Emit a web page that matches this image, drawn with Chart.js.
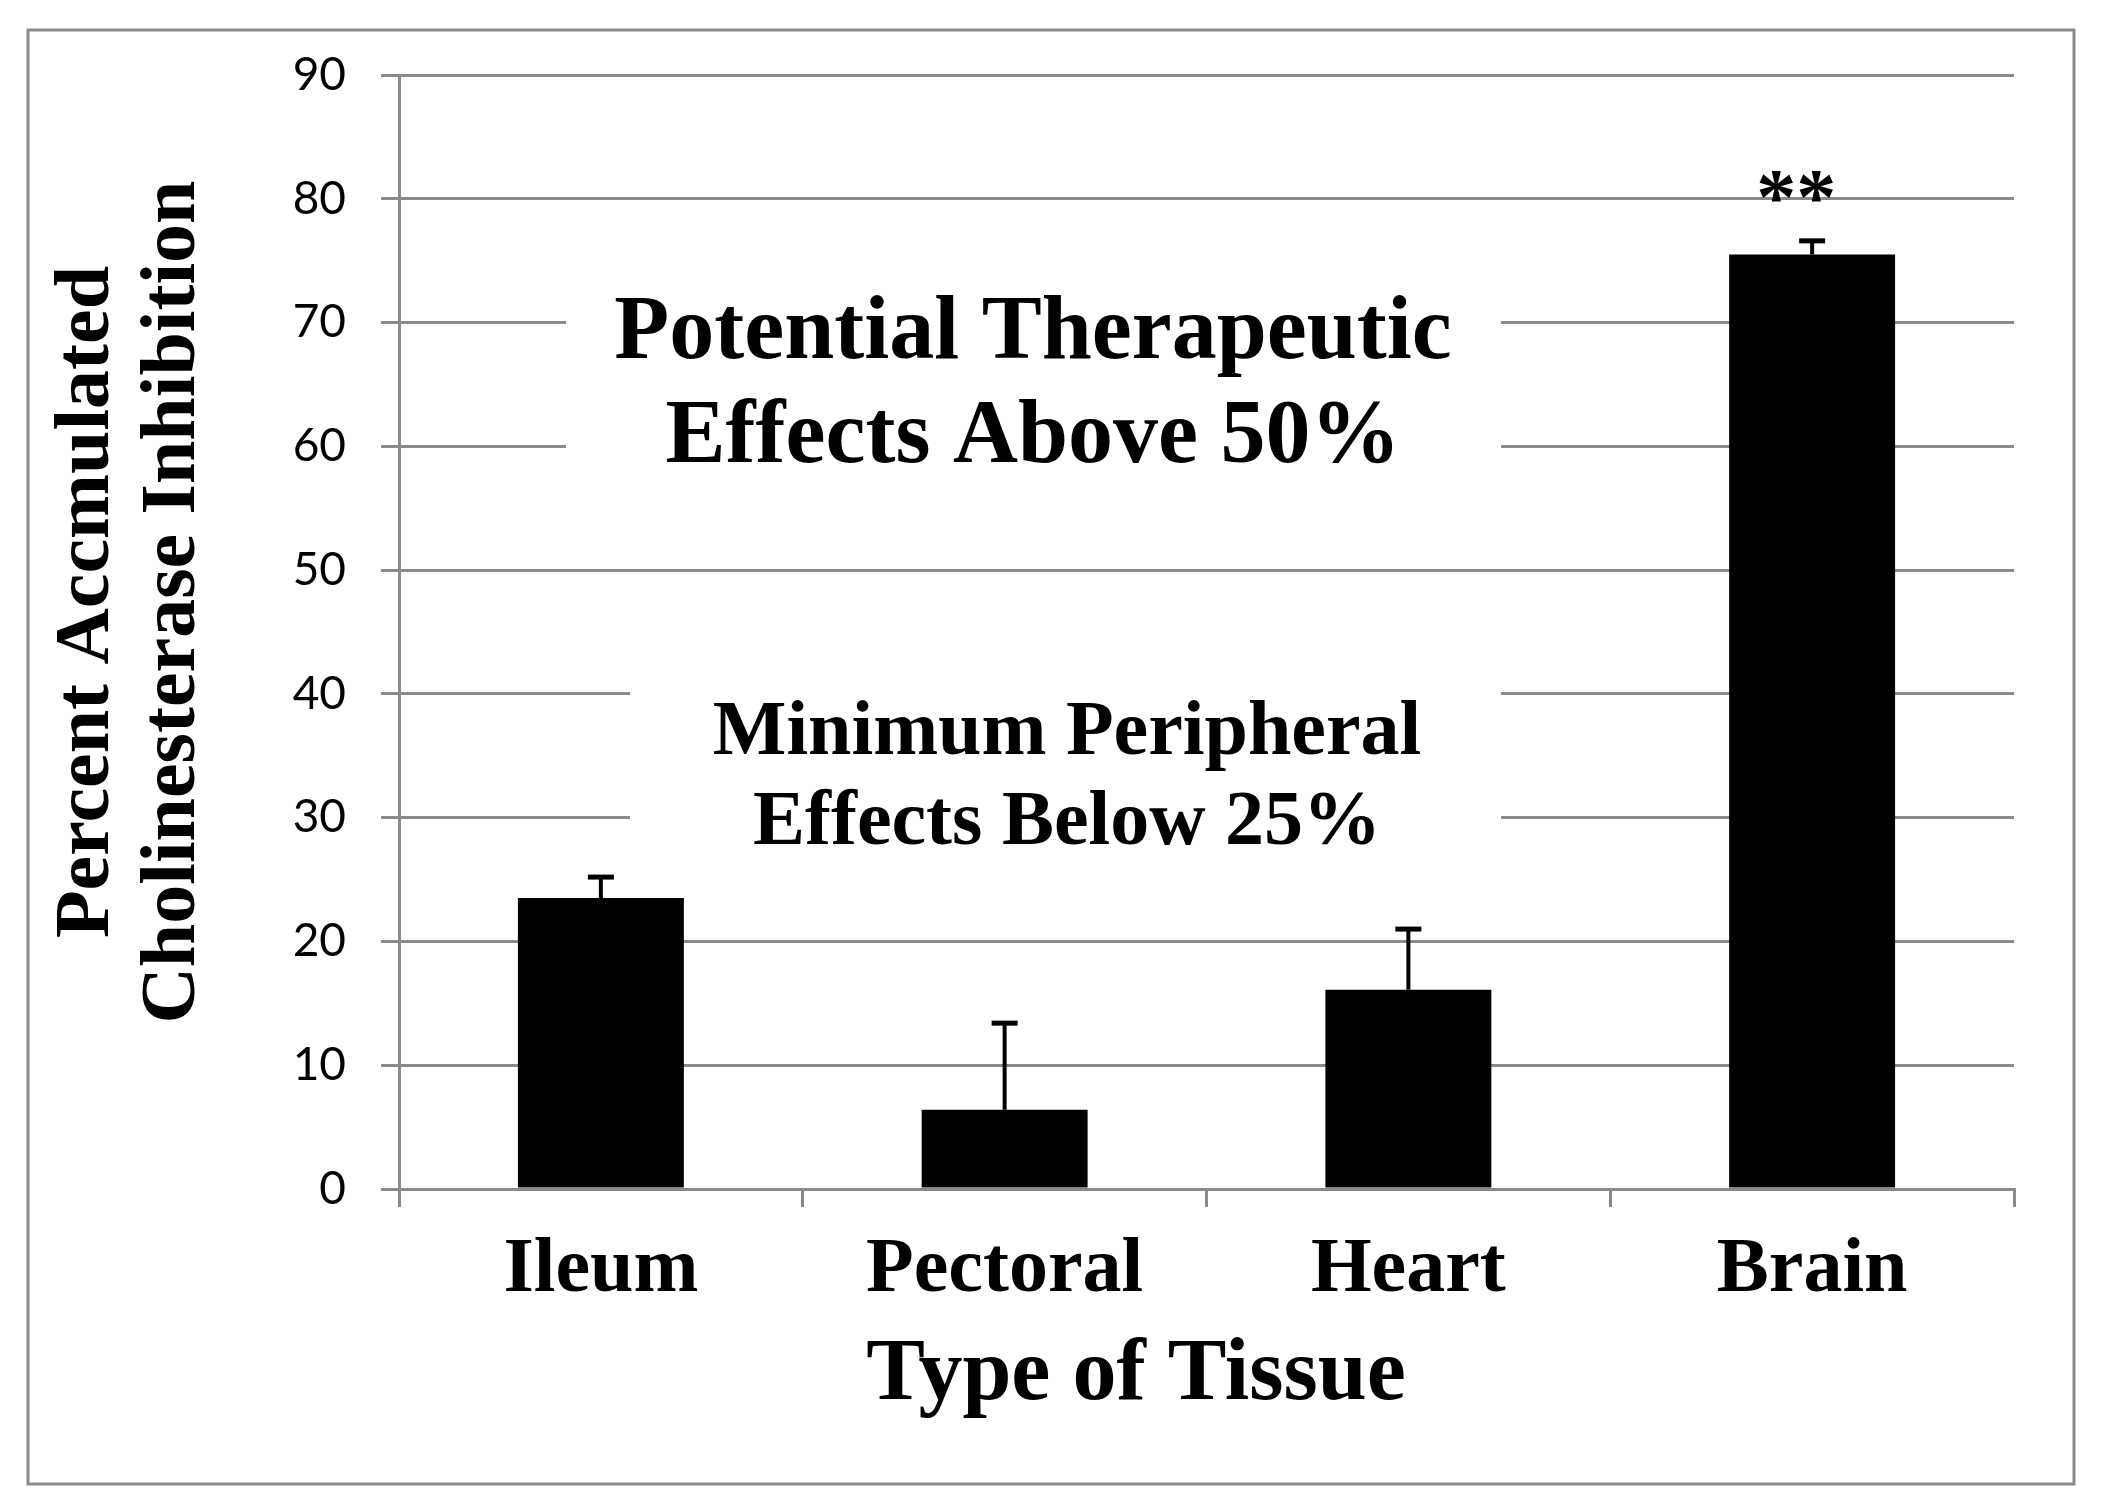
<!DOCTYPE html>
<html>
<head>
<meta charset="utf-8">
<script src="https://cdn.jsdelivr.net/npm/chart.js@4.4.1/dist/chart.umd.min.js"></script>
<style>
html,body{margin:0;padding:0;background:#fff;}
#wrap{width:2103px;height:1511px;position:relative;}
</style>
</head>
<body>
<div id="wrap"><canvas id="c" width="2103" height="1511"></canvas></div>
<script>
// ---- data ----
const categories = ['Ileum', 'Pectoral', 'Heart', 'Brain'];
const inhibition = [23.5, 6.4, 16.1, 75.5];
const errorUpper = [1.7, 7.0, 4.9, 1.1];
const significance = ['', '', '', '**'];
const yTicks = [0, 10, 20, 30, 40, 50, 60, 70, 80, 90];
const yTitle = ['Percent Accmulated', 'Cholinesterase Inhibition'];
const xTitle = 'Type of Tissue';
const noteUpper = ['Potential Therapeutic', 'Effects Above 50%'];
const noteLower = ['Minimum Peripheral', 'Effects Below 25%'];

// ---- styles ----
const GRID = '#8a8a8a';
const SERIF = '"Liberation Serif", "Times New Roman", serif';

const annotate = {
  id: 'annotate',
  beforeDatasetsDraw(chart) {
    const ctx = chart.ctx;
    ctx.save();
    // white text boxes hiding gridlines
    ctx.fillStyle = '#fff';
    ctx.fillRect(566, 262, 935, 246);
    ctx.fillRect(630, 642, 871, 236);
    ctx.fillStyle = '#000';
    ctx.textAlign = 'center';
    ctx.textBaseline = 'alphabetic';
    ctx.font = 'bold 90px ' + SERIF;
    ctx.fillText(noteUpper[0], 1033, 358);
    ctx.fillText(noteUpper[1], 1033, 462);
    ctx.font = 'bold 78px ' + SERIF;
    ctx.fillText(noteLower[0], 1067, 754);
    ctx.fillText(noteLower[1], 1067, 844);
    ctx.restore();
  },
  afterDatasetsDraw(chart) {
    const ctx = chart.ctx;
    const meta = chart.getDatasetMeta(0);
    const y = chart.scales.y;
    ctx.save();
    ctx.strokeStyle = '#000';
    ctx.fillStyle = '#000';
    meta.data.forEach((bar, i) => {
      const x = bar.x;
      const yTop = y.getPixelForValue(inhibition[i] + errorUpper[i]);
      const yBar = y.getPixelForValue(inhibition[i]);
      ctx.lineWidth = 4;
      ctx.beginPath();
      ctx.moveTo(x, yBar);
      ctx.lineTo(x, yTop);
      ctx.stroke();
      ctx.lineWidth = 5;
      ctx.beginPath();
      ctx.moveTo(x - 13, yTop);
      ctx.lineTo(x + 13, yTop);
      ctx.stroke();
      if (significance[i]) {
        ctx.font = 'bold 80px ' + SERIF;
        ctx.textAlign = 'center';
        ctx.textBaseline = 'alphabetic';
        ctx.fillText(significance[i], x - 16, yTop - 17);
      }
    });
    ctx.restore();
  },
  afterDraw(chart) {
    const ctx = chart.ctx;
    ctx.save();
    ctx.fillStyle = '#000';
    ctx.textAlign = 'center';
    ctx.textBaseline = 'alphabetic';
    ctx.font = 'bold 88px ' + SERIF;
    ctx.fillText(xTitle, 1136, 1399);
    ctx.font = 'bold 78px ' + SERIF;
    ctx.textBaseline = 'middle';
    ctx.translate(0, 602);
    ctx.rotate(-Math.PI / 2);
    ctx.fillText(yTitle[0], 0, 88);
    ctx.fillText(yTitle[1], 0, 174);
    ctx.restore();
    ctx.save();
    ctx.strokeStyle = GRID;
    ctx.lineWidth = 3;
    ctx.strokeRect(28, 30, 2046, 1454);
    ctx.restore();
  }
};

new Chart(document.getElementById('c').getContext('2d'), {
  type: 'bar',
  data: {
    labels: categories,
    datasets: [{
      data: inhibition,
      backgroundColor: '#000',
      borderWidth: 0,
      barPercentage: 0.411,
      categoryPercentage: 1
    }]
  },
  options: {
    responsive: false,
    animation: false,
    devicePixelRatio: 1,
    layout: { padding: { top: 75, right: 89, left: 0, bottom: 0 } },
    plugins: { legend: { display: false }, tooltip: { enabled: false } },
    scales: {
      x: {
        grid: { drawOnChartArea: false, drawTicks: true, tickLength: 18, color: GRID, lineWidth: 3, offset: true },
        border: { display: true, color: GRID, width: 3 },
        ticks: { font: { family: SERIF, size: 78, weight: 'bold' }, color: '#000', padding: 17, maxRotation: 0, autoSkip: false },
        afterFit(s) { s.height = 322; }
      },
      y: {
        min: 0,
        max: 90,
        afterBuildTicks(s) { s.ticks = yTicks.map(v => ({ value: v })); },
        grid: { color: GRID, lineWidth: 3, tickLength: 18 },
        border: { display: true, color: GRID, width: 3 },
        ticks: { font: { family: 'Lato', size: 46 }, color: '#000', padding: 35 },
        afterFit(s) { s.width = 399; }
      }
    }
  },
  plugins: [annotate]
});
</script>
</body>
</html>
